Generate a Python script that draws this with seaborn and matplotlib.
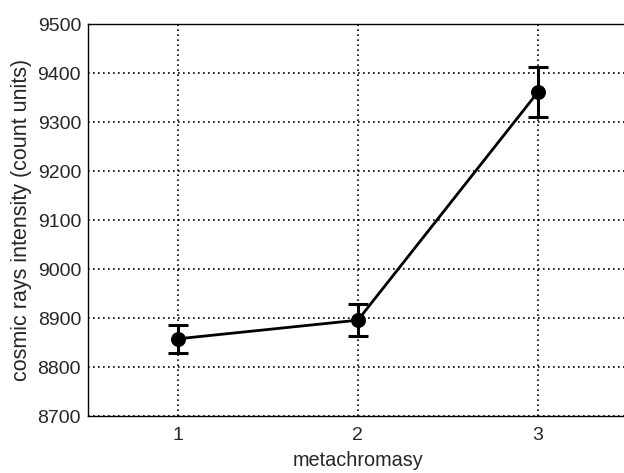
import numpy as np
import pandas as pd
import matplotlib
matplotlib.use("Agg")
import matplotlib.pyplot as plt
import seaborn as sns

metachromasy = [1, 2, 3]
intensity = [8858, 8896, 9361]
err = [28.5, 32, 51]

sns.set_style("white")
plt.rcParams['font.family'] = ['Liberation Sans', 'DejaVu Sans']

df = pd.DataFrame({'metachromasy': metachromasy, 'intensity': intensity})

fig = plt.figure(figsize=(6.24, 4.73), dpi=100)
ax = fig.add_axes([0.141, 0.12, 0.865, 0.829])

ax.errorbar(metachromasy, intensity, yerr=err, fmt='none', ecolor='black',
            elinewidth=2.2, capsize=7, capthick=2.2, zorder=3)
sns.lineplot(data=df, x='metachromasy', y='intensity', color='black',
             linewidth=2, marker='o', markersize=10, markeredgecolor='black',
             ax=ax, zorder=4)

ax.set_xlim(0.5, 3.5)
ax.set_ylim(8700, 9500)
ax.set_xticks([1, 2, 3])
ax.set_yticks(np.arange(8700, 9501, 100))
ax.grid(True, linestyle=(0, (1, 2)), color='black', linewidth=1.2)
ax.tick_params(labelsize=14, length=0)
ax.tick_params(axis='y', pad=5)
ax.tick_params(axis='x', pad=8)
for s in ax.spines.values():
    s.set_color('black')
    s.set_linewidth(1.0)
ax.set_xlabel('metachromasy', fontsize=14.3, labelpad=5)
ax.set_ylabel('cosmic rays intensity (count units)', fontsize=15.5, labelpad=4)

fig.savefig('out.png', dpi=100)
